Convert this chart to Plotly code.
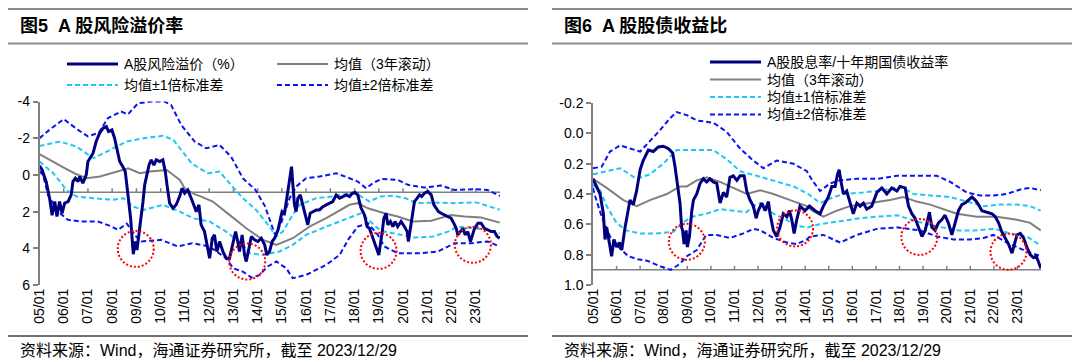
import pandas as pd
import plotly.graph_objects as go

# ---------------- data (decimal years, values) ----------------
# Left: A股风险溢价（%）
L_main_t = [2005.00, 2005.10, 2005.28, 2005.42, 2005.52, 2005.63, 2005.72, 2005.83, 2005.93, 2006.04, 2006.18,
            2006.31, 2006.38, 2006.48, 2006.59, 2006.66, 2006.79, 2006.93, 2007.00, 2007.11, 2007.21, 2007.34,
            2007.48, 2007.62, 2007.76, 2007.85, 2007.99, 2008.10, 2008.21, 2008.31, 2008.44, 2008.54, 2008.65,
            2008.76, 2008.83, 2008.87, 2008.95, 2009.02, 2009.09, 2009.18, 2009.27, 2009.34, 2009.45, 2009.52,
            2009.61, 2009.72, 2009.82, 2009.96, 2010.09, 2010.19, 2010.27, 2010.37, 2010.51, 2010.64, 2010.78,
            2010.88, 2010.99, 2011.12, 2011.26, 2011.37, 2011.47, 2011.58, 2011.67, 2011.81, 2011.88, 2012.02,
            2012.13, 2012.22, 2012.32, 2012.43, 2012.57, 2012.70, 2012.84, 2012.98, 2013.09, 2013.18, 2013.25,
            2013.36, 2013.46, 2013.53, 2013.64, 2013.74, 2013.87, 2014.01, 2014.15, 2014.29, 2014.38, 2014.49,
            2014.60, 2014.70, 2014.84, 2014.93, 2015.01, 2015.11, 2015.21, 2015.29, 2015.34, 2015.40, 2015.45,
            2015.52, 2015.59, 2015.66, 2015.76, 2015.87, 2015.98, 2016.07, 2016.17, 2016.28, 2016.42, 2016.55,
            2016.69, 2016.83, 2016.97, 2017.10, 2017.24, 2017.38, 2017.52, 2017.66, 2017.79, 2017.90, 2018.02,
            2018.13, 2018.27, 2018.41, 2018.52, 2018.61, 2018.71, 2018.82, 2018.93, 2019.00, 2019.07, 2019.14,
            2019.21, 2019.30, 2019.37, 2019.48, 2019.58, 2019.67, 2019.78, 2019.92, 2020.06, 2020.17, 2020.22,
            2020.30, 2020.40, 2020.47, 2020.58, 2020.68, 2020.77, 2020.88, 2021.02, 2021.09, 2021.16, 2021.27,
            2021.37, 2021.46, 2021.57, 2021.71, 2021.85, 2021.98, 2022.09, 2022.19, 2022.26, 2022.37, 2022.47,
            2022.56, 2022.67, 2022.78, 2022.85, 2022.95, 2023.09, 2023.22, 2023.36, 2023.50, 2023.64, 2023.77,
            2023.88, 2023.99]
L_main_v = [-0.50, -0.30, 0.40, 1.30, 2.20, 1.45, 2.27, 1.45, 2.09, 1.54, 1.45,
            1.09, 0.36, 0.18, 0.36, 0.09, 0.45, 0.00, -0.73, -1.00, -1.18, -1.82,
            -2.27, -2.54, -2.63, -2.36, -2.45, -2.00, -1.27, -0.73, -0.45, -0.18, 1.09,
            2.36, 3.63, 4.32, 3.63, 4.09, 3.36, 2.54, 1.45, 0.54, -0.18, -0.54,
            -0.82, -0.54, -0.82, -0.73, -0.82, -0.18, 0.64, 1.54, 1.82, 1.63, 1.18,
            0.73, 1.00, 0.82, 1.27, 1.63, 2.00, 1.63, 2.72, 3.09, 3.63, 4.54,
            3.45, 3.27, 4.18, 3.63, 4.18, 4.54, 4.54, 3.81, 3.09, 3.63, 4.18,
            3.27, 4.36, 4.72, 3.99, 3.36, 3.54, 3.63, 3.45, 3.81, 4.36, 4.18,
            3.63, 3.45, 3.00, 2.54, 2.00, 2.09, 1.27, 0.54, 0.00, -0.45, 0.45,
            1.63, 2.00, 1.27, 1.09, 1.63, 2.18, 2.72, 2.09, 2.00, 1.91, 1.91,
            1.73, 1.63, 1.54, 1.45, 1.09, 1.27, 1.18, 1.09, 1.18, 1.00, 0.95,
            1.09, 1.82, 2.18, 2.82, 2.91, 3.27, 3.63, 4.09, 4.36, 3.81, 3.09,
            2.36, 2.09, 2.72, 2.54, 2.82, 2.54, 2.82, 2.54, 2.82, 3.09, 3.63,
            2.91, 2.00, 1.45, 1.27, 1.09, 1.18, 1.00, 0.91, 1.00, 1.09, 1.63,
            1.82, 2.00, 2.09, 2.18, 2.27, 2.36, 2.63, 2.91, 3.27, 3.09, 2.91,
            3.27, 3.09, 3.63, 3.27, 2.91, 2.63, 2.63, 2.91, 3.00, 3.09, 3.09,
            3.36, 3.45]

L_mean_t = [2005.0, 2005.5, 2006.0, 2006.5, 2006.95, 2007.5, 2008.1, 2008.66, 2009.14, 2009.56, 2010.25, 2010.79,
            2011.0, 2011.4, 2011.7, 2012.15, 2012.84, 2013.53, 2014.22, 2014.77, 2015.45, 2016.14, 2016.83,
            2017.79, 2018.13, 2018.55, 2019.23, 2019.78, 2020.40, 2021.16, 2021.98, 2022.53, 2023.22, 2023.99]
L_mean_v = [-1.13, -0.75, -0.40, -0.05, 0.18, 0.09, -0.15, -0.36, -0.09, -0.18, -0.27, 0.27,
            0.75, 1.05, 1.20, 1.45, 2.18, 2.91, 3.54, 3.81, 3.45, 2.82, 2.36,
            1.63, 1.54, 1.82, 2.09, 2.27, 2.54, 2.50, 2.18, 2.27, 2.32, 2.60]

L_s1u_t = [2005.0, 2005.85, 2006.53, 2007.22, 2007.91, 2008.59, 2009.28, 2010.1, 2010.52, 2011.3, 2011.95,
           2012.43, 2012.84, 2013.39, 2013.94, 2014.49, 2014.77, 2015.04, 2015.45, 2015.73, 2016.41, 2017.1,
           2017.79, 2018.1, 2018.62, 2019.04, 2019.6, 2020.1, 2020.55, 2021.24, 2022.06, 2023.03, 2023.58, 2023.99]
L_s1u_v = [-1.58, -1.82, -1.54, -0.91, -1.36, -1.82, -2.00, -2.13, -1.91, -0.60, -0.09,
           -0.18, 0.45, 1.27, 1.91, 2.82, 3.36, 3.09, 2.18, 1.63, 1.27, 1.18,
           1.00, 1.05, 1.45, 1.18, 1.14, 1.27, 1.54, 1.51, 1.54, 1.50, 1.73, 1.90]

L_s1l_t = [2005.0, 2005.57, 2006.12, 2006.53, 2007.22, 2008.04, 2008.46, 2008.87, 2009.28, 2010.1, 2010.79,
           2011.33, 2012.02, 2012.70, 2013.39, 2013.67, 2014.22, 2014.9, 2015.45, 2016.0, 2016.83, 2017.79,
           2018.27, 2018.96, 2019.23, 2020.47, 2021.24, 2021.85, 2022.25, 2022.95, 2023.49, 2023.99]
L_s1l_v = [-0.73, -0.09, 0.82, 1.18, 1.27, 1.36, 1.27, 1.73, 1.91, 1.63, 2.00,
           2.36, 2.54, 3.09, 3.81, 4.27, 4.36, 4.18, 3.81, 3.27, 2.82, 2.36,
           2.09, 2.91, 3.09, 3.41, 3.36, 3.09, 2.82, 2.91, 3.00, 3.18]

L_s2u_t = [2005.0, 2005.49, 2006.0, 2006.59, 2007.0, 2007.45, 2007.82, 2008.37, 2008.65, 2009.06, 2009.6, 2010.16,
           2010.43, 2010.85, 2011.4, 2011.88, 2012.43, 2012.9, 2013.4, 2013.9, 2014.3, 2014.65, 2014.72, 2014.97,
           2015.32, 2015.59, 2016.0, 2016.55, 2017.24, 2017.79, 2018.13, 2018.48, 2018.75, 2019.1, 2019.78,
           2020.2, 2020.88, 2021.57, 2022.12, 2022.95, 2023.49, 2023.99]
L_s2u_v = [-2.00, -2.54, -3.04, -2.45, -2.10, -2.30, -3.09, -3.45, -3.30, -3.90, -4.00, -4.00,
           -3.81, -2.72, -1.82, -1.45, -1.63, -1.00, 0.20, 0.80, 1.70, 3.00, 3.27, 2.63,
           1.27, 0.64, 0.18, 0.09, -0.09, 0.18, 0.36, 0.73, 0.45, 0.22, 0.27,
           0.54, 0.69, 0.58, 0.82, 0.78, 0.82, 1.15]

L_s2l_t = [2005.0, 2005.15, 2005.35, 2005.76, 2006.18, 2006.72, 2007.41, 2007.96, 2008.24, 2008.6, 2008.99,
           2009.2, 2010.02, 2010.71, 2011.3, 2012.02, 2012.31, 2012.7, 2012.99, 2013.39, 2013.75, 2014.09,
           2014.4, 2014.77, 2015.18, 2015.45, 2016.0, 2016.83, 2017.38, 2017.75, 2018.13, 2018.55, 2018.96,
           2019.23, 2019.78, 2020.74, 2021.43, 2021.85, 2022.12, 2022.81, 2023.49, 2023.99]
L_s2l_v = [-0.20, 0.00, 1.09, 2.00, 2.45, 2.54, 2.54, 2.80, 3.00, 2.65, 3.36,
           3.63, 3.54, 3.90, 3.72, 3.90, 4.18, 4.54, 5.09, 5.27, 5.60, 5.45,
           5.00, 4.72, 5.09, 5.63, 5.45, 4.90, 4.36, 3.50, 2.82, 2.63, 3.27,
           3.90, 4.27, 4.27, 4.18, 3.90, 3.72, 3.72, 3.63, 3.90]

# Right: A股股息率/十年期国债收益率
R_main_t = [2005.00, 2005.10, 2005.30, 2005.44, 2005.51, 2005.58, 2005.72, 2005.79, 2005.89, 2006.00, 2006.12,
            2006.22, 2006.36, 2006.46, 2006.57, 2006.71, 2006.85, 2007.00, 2007.13, 2007.35, 2007.56, 2007.77,
            2007.98, 2008.19, 2008.38, 2008.48, 2008.58, 2008.69, 2008.76, 2008.80, 2008.86, 2008.95, 2009.00,
            2009.09, 2009.19, 2009.26, 2009.40, 2009.54, 2009.68, 2009.82, 2009.96, 2010.10, 2010.25, 2010.39,
            2010.53, 2010.67, 2010.81, 2010.95, 2011.10, 2011.24, 2011.41, 2011.52, 2011.66, 2011.80, 2011.92,
            2012.01, 2012.16, 2012.30, 2012.44, 2012.51, 2012.65, 2012.79, 2012.93, 2013.07, 2013.22, 2013.33,
            2013.43, 2013.53, 2013.64, 2013.78, 2013.99, 2014.18, 2014.42, 2014.63, 2014.77, 2014.98, 2015.13,
            2015.27, 2015.37, 2015.44, 2015.51, 2015.62, 2015.76, 2015.90, 2016.04, 2016.19, 2016.33, 2016.47,
            2016.61, 2016.82, 2017.04, 2017.25, 2017.46, 2017.67, 2017.89, 2018.02, 2018.24, 2018.38, 2018.52,
            2018.66, 2018.80, 2018.95, 2019.09, 2019.18, 2019.27, 2019.37, 2019.51, 2019.65, 2019.79, 2019.93,
            2020.07, 2020.22, 2020.36, 2020.50, 2020.64, 2020.78, 2020.92, 2021.07, 2021.21, 2021.35, 2021.49,
            2021.70, 2021.92, 2022.06, 2022.20, 2022.34, 2022.48, 2022.62, 2022.77, 2022.86, 2022.98, 2023.12,
            2023.26, 2023.40, 2023.54, 2023.68, 2023.80, 2023.90, 2023.99]
R_main_v = [0.30, 0.33, 0.40, 0.53, 0.70, 0.62, 0.75, 0.81, 0.70, 0.75, 0.72,
            0.77, 0.62, 0.53, 0.44, 0.47, 0.38, 0.24, 0.18, 0.11, 0.12, 0.09,
            0.085, 0.10, 0.13, 0.22, 0.33, 0.46, 0.62, 0.64, 0.73, 0.64, 0.75,
            0.68, 0.51, 0.44, 0.40, 0.33, 0.30, 0.32, 0.30, 0.32, 0.33, 0.46,
            0.39, 0.42, 0.29, 0.28, 0.31, 0.28, 0.28, 0.38, 0.44, 0.48, 0.56,
            0.51, 0.46, 0.51, 0.45, 0.53, 0.64, 0.68, 0.62, 0.53, 0.55, 0.51,
            0.57, 0.66, 0.57, 0.48, 0.51, 0.48, 0.51, 0.53, 0.48, 0.42, 0.35,
            0.35, 0.27, 0.24, 0.31, 0.40, 0.38, 0.46, 0.53, 0.46, 0.48, 0.46,
            0.50, 0.48, 0.39, 0.36, 0.40, 0.36, 0.38, 0.35, 0.36, 0.48, 0.53,
            0.56, 0.62, 0.68, 0.64, 0.57, 0.52, 0.62, 0.64, 0.59, 0.57, 0.54,
            0.59, 0.67, 0.59, 0.51, 0.47, 0.46, 0.44, 0.42, 0.44, 0.47, 0.51,
            0.52, 0.53, 0.55, 0.59, 0.65, 0.69, 0.73, 0.79, 0.73, 0.67, 0.66,
            0.69, 0.75, 0.80, 0.82, 0.81, 0.85, 0.89]

R_mean_t = [2005.0, 2005.58, 2006.29, 2006.85, 2007.42, 2008.13, 2008.69, 2008.98, 2009.4, 2009.82, 2010.39,
            2010.95, 2011.52, 2012.09, 2012.65, 2013.36, 2014.07, 2014.3, 2014.77, 2015.34, 2015.9, 2016.75,
            2017.6, 2018.16, 2018.73, 2019.3, 2019.86, 2020.43, 2021.28, 2022.13, 2022.98, 2023.54, 2023.99]
R_mean_v = [0.30, 0.36, 0.44, 0.48, 0.44, 0.40, 0.35, 0.35, 0.31, 0.29, 0.32,
            0.36, 0.40, 0.375, 0.40, 0.44, 0.48, 0.51, 0.55, 0.51, 0.48, 0.46,
            0.44, 0.42, 0.45, 0.47, 0.50, 0.53, 0.55, 0.55, 0.57, 0.59, 0.64]

R_s1u_t = [2005.0, 2005.58, 2006.15, 2006.85, 2007.42, 2007.98, 2008.55, 2009.12, 2010.1, 2010.67, 2011.24,
           2011.94, 2012.65, 2013.5, 2014.13, 2014.63, 2015.06, 2015.62, 2016.47, 2017.32, 2018.02, 2018.59,
           2019.3, 2020.15, 2020.85, 2021.56, 2022.27, 2022.98, 2023.54, 2023.99]
R_s1u_v = [0.27, 0.25, 0.23, 0.30, 0.27, 0.20, 0.11, 0.11, 0.11, 0.17, 0.25,
           0.28, 0.31, 0.35, 0.40, 0.46, 0.43, 0.40, 0.39, 0.375, 0.35, 0.40,
           0.41, 0.42, 0.45, 0.48, 0.47, 0.47, 0.48, 0.51]

R_s1l_t = [2005.0, 2005.3, 2005.58, 2006.0, 2006.4, 2007.0, 2007.7, 2008.4, 2008.8, 2009.2, 2009.8,
           2010.4, 2010.95, 2011.5, 2011.9, 2012.1, 2012.65, 2013.2, 2013.6, 2014.1, 2014.6, 2015.5,
           2016.3, 2017.0, 2017.9, 2018.7, 2019.8, 2020.5, 2021.2, 2022.0, 2022.7, 2023.4, 2023.99]
R_s1l_v = [0.34, 0.375, 0.48, 0.59, 0.64, 0.66, 0.66, 0.65, 0.59, 0.55, 0.53,
           0.50, 0.51, 0.52, 0.47, 0.46, 0.53, 0.57, 0.61, 0.62, 0.60, 0.58,
           0.56, 0.55, 0.54, 0.58, 0.62, 0.64, 0.64, 0.63, 0.66, 0.68, 0.74]

R_s2u_t = [2005.0, 2005.37, 2005.72, 2006.15, 2006.57, 2007.0, 2007.42, 2007.84, 2008.27, 2008.55, 2008.98,
           2009.4, 2010.1, 2010.67, 2011.24, 2011.8, 2012.23, 2012.79, 2013.5, 2014.07, 2014.3, 2014.63,
           2015.06, 2015.48, 2016.19, 2017.04, 2017.89, 2018.87, 2019.58, 2020.15, 2020.85, 2021.42, 2021.98,
           2022.55, 2023.12, 2023.54, 2023.99]
R_s2u_v = [0.23, 0.22, 0.12, 0.08, 0.10, 0.12, 0.05, -0.02, -0.10, -0.14, -0.12,
           -0.085, -0.07, -0.01, 0.10, 0.18, 0.23, 0.18, 0.20, 0.25, 0.31, 0.38,
           0.33, 0.31, 0.30, 0.30, 0.28, 0.28, 0.28, 0.32, 0.39, 0.41, 0.41,
           0.40, 0.37, 0.36, 0.375]

R_s2l_t = [2005.0, 2005.1, 2005.37, 2005.72, 2006.15, 2006.5, 2006.9, 2007.3, 2007.9, 2008.3, 2008.69,
           2008.98, 2009.4, 2009.8, 2010.25, 2010.81, 2011.38, 2011.8, 2012.1, 2012.65, 2013.22, 2013.64,
           2014.07, 2014.2, 2014.77, 2015.48, 2016.19, 2017.04, 2017.89, 2018.87, 2019.58, 2020.29, 2020.99,
           2021.56, 2021.98, 2022.55, 2022.98, 2023.4, 2023.99]
R_s2l_v = [0.36, 0.42, 0.55, 0.68, 0.76, 0.81, 0.83, 0.84, 0.88, 0.90, 0.86,
           0.81, 0.77, 0.67, 0.67, 0.69, 0.66, 0.63, 0.64, 0.69, 0.72, 0.73,
           0.70, 0.68, 0.67, 0.72, 0.67, 0.63, 0.62, 0.64, 0.68, 0.70, 0.70,
           0.69, 0.67, 0.72, 0.75, 0.78, 0.81]

# highlighted circles (decimal year, value)
L_circ_t = [2008.97, 2013.57, 2018.99, 2022.88]
L_circ_v = [4.03, 4.72, 4.14, 3.81]
R_circ_t = [2008.98, 2013.57, 2018.84, 2022.62]
R_circ_v = [0.715, 0.627, 0.683, 0.781]

years = list(range(2005, 2024))
L_yticks = [-4, -2, 0, 2, 4, 6]
L_ylabels = ["-4", "-2", "0", "2", "4", "6"]
R_yticks = [-0.2, 0.0, 0.2, 0.4, 0.6, 0.8, 1.0]
R_ylabels = ["-0.2", "0.0", "0.2", "0.4", "0.6", "0.8", "1.0"]
L_cross = 0.95
R_cross = 0.9

names = ["A股风险溢价（%）", "均值（3年滚动）", "均值±1倍标准差", "均值±2倍标准差"]
R_names = ["A股股息率/十年期国债收益率", "均值（3年滚动）", "均值±1倍标准差", "均值±2倍标准差"]
titles = ["<b>图5  A 股风险溢价率</b>", "<b>图6  A 股股债收益比</b>"]
source = "资料来源：Wind，海通证券研究所，截至 2023/12/29"


def to_date(t):
    y = int(t)
    s = pd.Timestamp(y, 1, 1)
    e = pd.Timestamp(y + 1, 1, 1)
    return s + (e - s) * (t - y)


def dates(ts):
    return [to_date(t) for t in ts]


# The page body keeps its default 8px margin, so the figure is placed at (8, 8)
# and sized to fill the remainder of the 1080x362 window.
OFF = 8
W, H = 1080 - OFF, 362 - OFF
FONT = "Liberation Sans, Arial, Noto Sans CJK SC, sans-serif"
NAVY = "#000080"
GRAY = "#808080"
CYAN = "#1EC8F5"
BLUE = "#0A14F0"

styles = {
    "main": dict(color=NAVY, width=3),
    "mean": dict(color=GRAY, width=2),
    "s1": dict(color=CYAN, width=2, dash="5px,3px"),
    "s2": dict(color=BLUE, width=2, dash="5px,3px"),
}

fig = go.Figure()


def add_panel(xa, ya, main_t, main_v, mean_t, mean_v, s1u_t, s1u_v, s1l_t, s1l_v, s2u_t, s2u_v, s2l_t, s2l_v):
    for tt, vv, st in [(s2u_t, s2u_v, "s2"), (s2l_t, s2l_v, "s2"), (s1u_t, s1u_v, "s1"), (s1l_t, s1l_v, "s1"),
                       (mean_t, mean_v, "mean"), (main_t, main_v, "main")]:
        fig.add_trace(go.Scatter(x=dates(tt), y=vv, mode="lines", line=styles[st], xaxis=xa, yaxis=ya,
                                 showlegend=False, hoverinfo="skip"))


add_panel("x", "y", L_main_t, L_main_v, L_mean_t, L_mean_v, L_s1u_t, L_s1u_v, L_s1l_t, L_s1l_v,
          L_s2u_t, L_s2u_v, L_s2l_t, L_s2l_v)
add_panel("x2", "y2", R_main_t, R_main_v, R_mean_t, R_mean_v, R_s1u_t, R_s1u_v, R_s1l_t, R_s1l_v,
          R_s2u_t, R_s2u_v, R_s2l_t, R_s2l_v)


def px(x):
    return (x - OFF) / W


def py(y):
    return 1 - (y - OFF) / H


xcommon = dict(type="date", range=[pd.Timestamp(2005, 1, 1), pd.Timestamp(2024, 1, 1)],
               tickvals=[pd.Timestamp(y, 1, 1) for y in years], tickformat="%y/%m", tickangle=-90,
               showgrid=False, zeroline=False, showline=False, ticks="", automargin=False,
               tickfont=dict(family=FONT, size=14, color="#000000"))
ycommon = dict(showgrid=False, zeroline=False, showline=True, linecolor=GRAY, linewidth=1.5,
               ticks="outside", ticklen=5, tickcolor=GRAY, tickwidth=1.5, automargin=False,
               tickfont=dict(family=FONT, size=14, color="#000000"))

fig.update_layout(
    width=W, height=H, margin=dict(l=0, r=0, t=0, b=0, autoexpand=False),
    paper_bgcolor="white", plot_bgcolor="white", showlegend=False,
    xaxis=dict(domain=[px(39.5), px(500)], anchor="y", **xcommon),
    yaxis=dict(domain=[py(285), py(101.5)], anchor="x", range=[6, -4], tickvals=L_yticks,
               ticktext=L_ylabels, **ycommon),
    xaxis2=dict(domain=[px(593), px(1041)], anchor="y2", **xcommon),
    yaxis2=dict(domain=[py(285), py(103)], anchor="x2", range=[1.0, -0.2], tickvals=R_yticks,
                ticktext=R_ylabels, **ycommon),
)

shapes = []
# crossing horizontal axis line with small upward ticks
for xr, yr, cv in [("x", "y", L_cross), ("x2", "y2", R_cross)]:
    shapes.append(dict(type="line", xref=xr, yref=yr, x0=pd.Timestamp(2005, 1, 1), x1=pd.Timestamp(2024, 1, 1),
                       y0=cv, y1=cv, line=dict(color=GRAY, width=1.5), layer="below"))
    for yv in years[1:]:
        shapes.append(dict(type="line", xref=xr, yref=yr, x0=pd.Timestamp(yv, 1, 1), x1=pd.Timestamp(yv, 1, 1),
                           ysizemode="pixel", yanchor=cv, y0=0, y1=4, line=dict(color=GRAY, width=1.5),
                           layer="below"))

# red dotted circles
for xr, yr, ct, cv in [("x", "y", L_circ_t, L_circ_v), ("x2", "y2", R_circ_t, R_circ_v)]:
    for t, v in zip(ct, cv):
        shapes.append(dict(type="circle", xref=xr, yref=yr, xsizemode="pixel", ysizemode="pixel",
                           xanchor=to_date(t), yanchor=v, x0=-18, x1=18, y0=-18, y1=18,
                           line=dict(color="#FF0000", width=2, dash="2px,2px")))

# title bars and footer rules
for x0, x1 in [(8, 528), (552, 1073)]:
    for yy, c, w in [(9, "#8C8C8C", 2), (43.5, "#8C8C8C", 2), (336, "#404040", 1.5)]:
        shapes.append(dict(type="line", xref="paper", yref="paper", x0=px(x0), x1=px(x1), y0=py(yy), y1=py(yy),
                           line=dict(color=c, width=w)))

annotations = []
for x0, ttl in [(18, titles[0]), (562, titles[1])]:
    annotations.append(dict(xref="paper", yref="paper", x=px(x0), y=py(26), xanchor="left", yanchor="middle",
                            text=ttl, showarrow=False, font=dict(family=FONT, size=18, color="#000000")))
    annotations.append(dict(xref="paper", yref="paper", x=px(x0), y=py(350), xanchor="left", yanchor="middle",
                            text=source, showarrow=False, font=dict(family=FONT, size=16, color="#000000")))

# manual legends
leg_styles = [styles["main"], styles["mean"], styles["s1"], styles["s2"]]
L_leg_pos = [(67, 64), (277, 64), (67, 85), (277, 85)]
R_leg_pos = [(710, 62), (710, 79.5), (710, 97), (710, 114.5)]
for pos_list, nm_list in [(L_leg_pos, names), (R_leg_pos, R_names)]:
    for (lx, ly), st, nm in zip(pos_list, leg_styles, nm_list):
        shapes.append(dict(type="line", xref="paper", yref="paper", x0=px(lx), x1=px(lx + 51), y0=py(ly), y1=py(ly),
                           line=st))
        annotations.append(dict(xref="paper", yref="paper", x=px(lx + 55), y=py(ly), xanchor="left",
                                yanchor="middle", text=nm, showarrow=False,
                                font=dict(family=FONT, size=14, color="#000000")))

fig.update_layout(shapes=shapes, annotations=annotations)
fig.write_html("out.html")
